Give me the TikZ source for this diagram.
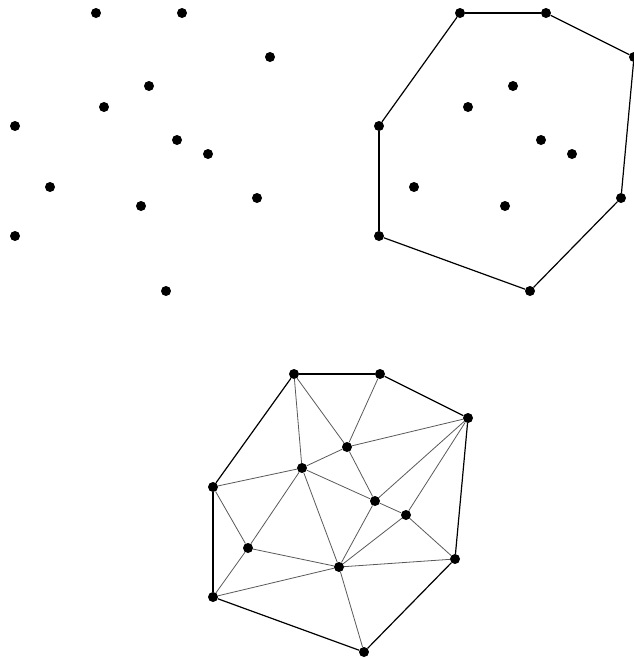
\documentclass[tikz,border=0pt]{standalone}
\begin{document}
\begin{tikzpicture}[
        x=1pt, y=-1pt,
        dot/.style={
            circle,
            fill=black,
            inner sep=0pt,
            minimum size=10pt
        },
        hull edge/.style={
            draw=black,
            line width=1.2pt
        },
        inner edge/.style={
            draw=black!65,
            line width=0.8pt
        }
    ]
    \useasboundingbox (0,0) rectangle (633,659);
    % point set: name/x/y
    \def\pointset{a/96/13, b/182/13, c/270/57, d/149/86, e/104/107,
        f/15/126, g/177/140, h/208/154, i/50/187, j/141/206,
        k/257/198, l/15/236, m/166/291}
    % top left - the points alone
    \begin{scope}[name prefix=p-]
        \foreach \n/\px/\py in \pointset
            \node[dot] (\n) at (\px,\py) {};
    \end{scope}
    % top right - convex hull
    \begin{scope}[shift={(364,0)}, name prefix=q-]
        \foreach \n/\px/\py in \pointset
            \node[dot] (\n) at (\px,\py) {};
    \end{scope}
    \foreach \s/\t in {a/b, b/c, c/k, k/m, m/l, l/f, f/a}
        \draw[hull edge] (q-\s) -- (q-\t);
    % bottom - triangulation
    \begin{scope}[shift={(198,361)}, name prefix=r-]
        \foreach \n/\px/\py in \pointset
            \node[dot] (\n) at (\px,\py) {};
    \end{scope}
    \foreach \s/\t in {a/d, a/e, b/d, d/c, d/e, d/g, e/f, e/g, e/i, e/j,
        f/i, i/l, i/j, l/j, j/m, j/k, j/g, j/h, g/h, g/c, h/c, h/k}
        \draw[inner edge] (r-\s) -- (r-\t);
    \foreach \s/\t in {a/b, b/c, c/k, k/m, m/l, l/f, f/a}
        \draw[hull edge] (r-\s) -- (r-\t);
\end{tikzpicture}
\end{document}
